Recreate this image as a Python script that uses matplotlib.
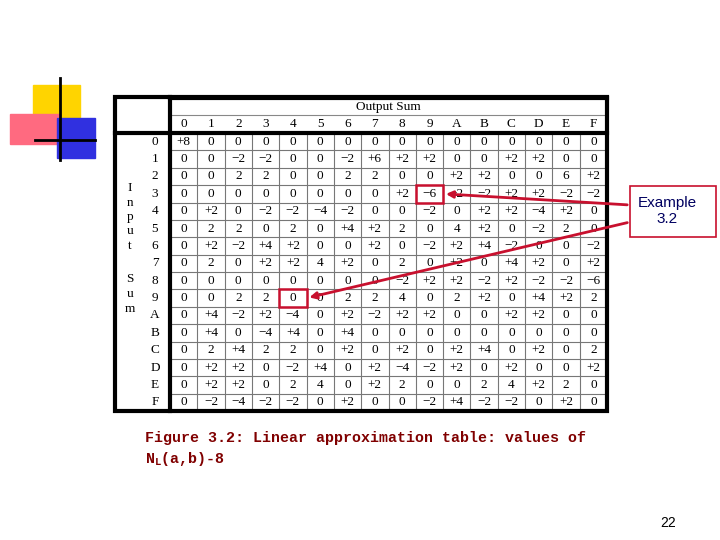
import matplotlib
matplotlib.use("Agg")
import matplotlib.pyplot as plt
from matplotlib.patches import Rectangle

col_labels = list("0123456789ABCDEF")
row_labels = list("0123456789ABCDEF")
rows = [
 "+8 0 0 0 0 0 0 0 0 0 0 0 0 0 0 0",
 "0 0 −2 −2 0 0 −2 +6 +2 +2 0 0 +2 +2 0 0",
 "0 0 2 2 0 0 2 2 0 0 +2 +2 0 0 6 +2",
 "0 0 0 0 0 0 0 0 +2 −6 −2 −2 +2 +2 −2 −2",
 "0 +2 0 −2 −2 −4 −2 0 0 −2 0 +2 +2 −4 +2 0",
 "0 2 2 0 2 0 +4 +2 2 0 4 +2 0 −2 2 0",
 "0 +2 −2 +4 +2 0 0 +2 0 −2 +2 +4 −2 0 0 −2",
 "0 2 0 +2 +2 4 +2 0 2 0 +2 0 +4 +2 0 +2",
 "0 0 0 0 0 0 0 0 −2 +2 +2 −2 +2 −2 −2 −6",
 "0 0 2 2 0 0 2 2 4 0 2 +2 0 +4 +2 2",
 "0 +4 −2 +2 −4 0 +2 −2 +2 +2 0 0 +2 +2 0 0",
 "0 +4 0 −4 +4 0 +4 0 0 0 0 0 0 0 0 0",
 "0 2 +4 2 2 0 +2 0 +2 0 +2 +4 0 +2 0 2",
 "0 +2 +2 0 −2 +4 0 +2 −4 −2 +2 0 +2 0 0 +2",
 "0 +2 +2 0 2 4 0 +2 2 0 0 2 4 +2 2 0",
 "0 −2 −4 −2 −2 0 +2 0 0 −2 +4 −2 −2 0 +2 0",
]
values = [r.split() for r in rows]
highlight = [(3, 9), (9, 4)]

fig = plt.figure(figsize=(7.2, 5.4), dpi=100)
ax = fig.add_axes([0, 0, 1, 1])
ax.set_xlim(0, 720); ax.set_ylim(540, 0); ax.axis("off")

# decorations
ax.add_patch(Rectangle((33, 85), 47, 45, color="#ffd400", zorder=1))
ax.add_patch(Rectangle((10, 114), 50, 30, color="#ff6a80", zorder=2))
ax.add_patch(Rectangle((57, 118), 38, 40, color="#3030e0", zorder=2))
ax.plot([60, 60], [78, 160], color="black", lw=2, zorder=3)
ax.plot([35, 95], [140, 140], color="black", lw=2, zorder=3)

x0, x1 = 170, 607
y_top, y_hdr, y0, y1 = 97, 115, 133, 411
cw = (x1 - x0) / 16
rh = (y1 - y0) / 16
serif = "Liberation Serif"
fs = 9.5
ax.add_patch(Rectangle((115, y_top), x1 - 115, y1 - y_top, fill=False, lw=3, color="black", zorder=5))
ax.plot([x0, x0], [y_top, y1], color="black", lw=3, zorder=5)
ax.plot([x0, x1], [y_top + 1, y_top + 1], color="black", lw=3, zorder=5)
ax.plot([115, x1], [y0, y0], color="black", lw=3, zorder=5)
ax.plot([x0, x1], [y_hdr, y_hdr], color="#888888", lw=0.8, zorder=4)
for i in range(1, 16):
    ax.plot([x0 + i * cw] * 2, [y0, y1], color="#777777", lw=0.8, zorder=4)
    ax.plot([x0, x1], [y0 + i * rh] * 2, color="#777777", lw=0.8, zorder=4)
ax.text((x0 + x1) / 2, 107, "Output Sum", ha="center", va="center", family=serif, fontsize=fs)
for j, c in enumerate(col_labels):
    ax.text(x0 + (j + 0.5) * cw, 124, c, ha="center", va="center", family=serif, fontsize=fs)
for i, r in enumerate(row_labels):
    yc = y0 + (i + 0.5) * rh
    ax.text(155, yc, r, ha="center", va="center", family=serif, fontsize=fs)
    for j, v in enumerate(values[i]):
        ax.text(x0 + (j + 0.5) * cw, yc, v, ha="center", va="center", family=serif, fontsize=fs)
for k, ch in enumerate("Input"):
    ax.text(130, 188 + k * 14.5, ch, ha="center", va="center", family=serif, fontsize=fs)
for k, ch in enumerate("Sum"):
    ax.text(130, 279 + k * 15, ch, ha="center", va="center", family=serif, fontsize=fs)

for (r, c) in highlight:
    ax.add_patch(Rectangle((x0 + c * cw, y0 + r * rh), cw, rh, fill=False, lw=1.8, color="#c8102e", zorder=6))

ax.add_patch(Rectangle((630, 186), 86, 51, fill=False, lw=1.2, color="#c8102e", zorder=6))
ax.text(667, 211, "Example\n3.2", ha="center", va="center", family="Liberation Sans", fontsize=11, color="#000060")
ax.annotate("", xy=(x0 + 10 * cw, y0 + 3.5 * rh), xytext=(630, 205),
            arrowprops=dict(arrowstyle="-|>", color="#c8102e", lw=2, mutation_scale=10), zorder=7)
ax.annotate("", xy=(x0 + 5 * cw, y0 + 9.5 * rh), xytext=(630, 222),
            arrowprops=dict(arrowstyle="-|>", color="#c8102e", lw=2, mutation_scale=10), zorder=7)

cap = dict(family="Liberation Mono", fontsize=10.8, weight="bold", color="#800000", va="center")
ax.text(145, 438, "Figure 3.2: Linear approximation table: values of", **cap)
ax.text(145, 459, r"N$_\mathregular{L}$(a,b)-8", **cap)
ax.text(668, 523, "22", family="Liberation Sans", fontsize=10, ha="center", va="center")

fig.savefig("out.png", dpi=100)
